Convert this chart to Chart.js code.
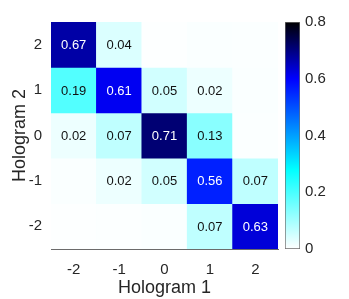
<!DOCTYPE html>
<html>
<head>
<meta charset="utf-8">
<script src="https://cdn.jsdelivr.net/npm/chart.js@4.4.1/dist/chart.umd.min.js"></script>
<style>
  body { margin: 0; background: #fff; }
  #wrap { position: relative; width: 349px; height: 299px; }
  #wrap canvas { position: absolute; top: 0; }
</style>
</head>
<body>
<div id="wrap">
  <canvas id="heat" width="349" height="299" style="left:0"></canvas>
  <canvas id="cbar" width="69" height="299" style="left:280px"></canvas>
</div>
<script>
// Hologram 1 along x, Hologram 2 along y (top row first)
const hologram1 = ['-2', '-1', '0', '1', '2'];
const hologram2 = [2, 1, 0, -1, -2];
const rowPlus2  = [0.67, 0.04, 0.002, 0.006, 0.004];
const rowPlus1  = [0.19, 0.61, 0.05, 0.02, 0.005];
const rowZero   = [0.02, 0.07, 0.71, 0.13, 0.004];
const rowMinus1 = [0.006, 0.02, 0.05, 0.56, 0.07];
const rowMinus2 = [0.002, 0.003, 0.006, 0.07, 0.63];
const rows = [rowPlus2, rowPlus1, rowZero, rowMinus1, rowMinus2];
const cbarTicks = [0, 0.2, 0.4, 0.6, 0.8];

const FONT = '"Liberation Sans", Arial, sans-serif';
const TEXT = '#262626';
const AXIS = '#6b6b6b';

// white -> cyan -> blue -> black
const cmapStops = [
    [0, [255, 255, 255]],
    [0.28, [0, 255, 255]],
    [0.6, [0, 0, 255]],
    [0.8, [0, 0, 0]],
];

function colorFor(v) {
    for (let i = 1; i < cmapStops.length; i++) {
        const [v0, c0] = cmapStops[i - 1];
        const [v1, c1] = cmapStops[i];
        if (v <= v1 || i === cmapStops.length - 1) {
            const t = Math.max(0, Math.min(1, (v - v0) / (v1 - v0)));
            const c = c0.map((a, k) => Math.round(a + (c1[k] - a) * t));
            return `rgb(${c[0]}, ${c[1]}, ${c[2]})`;
        }
    }
}

const cellText = {
    id: 'cellText',
    afterDatasetsDraw(chart) {
        const { ctx, scales: { x, y } } = chart;
        ctx.save();
        ctx.font = `13px ${FONT}`;
        ctx.textAlign = 'center';
        ctx.textBaseline = 'middle';
        rows.forEach((row, r) => {
            row.forEach((v, i) => {
                if (v < 0.015) return; // tiny values are left blank
                ctx.fillStyle = v > 0.5 ? '#ffffff' : '#111111';
                ctx.fillText(v.toFixed(2), x.getPixelForValue(i), y.getPixelForValue(hologram2[r]) + 1);
            });
        });
        ctx.restore();
    }
};

new Chart(document.getElementById('heat'), {
    type: 'bar',
    data: {
        labels: hologram1,
        datasets: rows.map((row, r) => ({
            label: 'Hologram 2 = ' + hologram2[r],
            data: row.map(() => [hologram2[r] - 0.5, hologram2[r] + 0.5]),
            backgroundColor: row.map(colorFor),
            borderWidth: 0,
            grouped: false,
            barPercentage: 1,
            categoryPercentage: 1,
        })),
    },
    options: {
        responsive: false,
        animation: false,
        events: [],
        layout: { autoPadding: false, padding: { left: 0, right: 71, top: 22, bottom: 0 } },
        plugins: { legend: { display: false }, tooltip: { enabled: false } },
        scales: {
            x: {
                grid: { display: false, drawTicks: false },
                border: { color: AXIS, width: 1 },
                ticks: { color: TEXT, font: { family: FONT, size: 15 }, padding: 12 },
                title: { display: true, text: 'Hologram 1', color: TEXT, font: { family: FONT, size: 18 }, padding: { top: 0, bottom: 0 } },
                afterFit(scale) { scale.height = 50; },
            },
            y: {
                min: -2.5,
                max: 2.5,
                afterBuildTicks(scale) { scale.ticks = hologram2.map(v => ({ value: v })); },
                grid: { display: false, drawTicks: false },
                border: { color: AXIS, width: 1 },
                ticks: { color: TEXT, font: { family: FONT, size: 15 }, padding: 9 },
                title: { display: true, text: 'Hologram 2', color: TEXT, font: { family: FONT, size: 18 }, padding: { top: 9, bottom: 0 } },
                afterFit(scale) { scale.width = 51; },
            },
        },
    },
    plugins: [cellText],
});

// colorbar
new Chart(document.getElementById('cbar'), {
    type: 'bar',
    data: {
        labels: [''],
        datasets: [{
            data: [[cbarTicks[0], cbarTicks[cbarTicks.length - 1]]],
            backgroundColor(context) {
                const { chart } = context;
                const area = chart.chartArea;
                if (!area) return null;
                const y = chart.scales.y;
                const g = chart.ctx.createLinearGradient(0, y.getPixelForValue(0), 0, y.getPixelForValue(0.8));
                cmapStops.forEach(([v]) => g.addColorStop(v / 0.8, colorFor(v)));
                return g;
            },
            borderColor: AXIS,
            borderWidth: 1,
            borderSkipped: false,
            barPercentage: 1,
            categoryPercentage: 1,
        }],
    },
    options: {
        responsive: false,
        animation: false,
        events: [],
        layout: { autoPadding: false, padding: { left: 5, right: 0, top: 22, bottom: 50 } },
        plugins: { legend: { display: false }, tooltip: { enabled: false } },
        scales: {
            x: { display: false },
            y: {
                position: 'right',
                min: 0,
                max: 0.8,
                afterBuildTicks(scale) { scale.ticks = cbarTicks.map(v => ({ value: v })); },
                grid: { display: false, drawTicks: false },
                border: { display: false },
                ticks: {
                    color: TEXT,
                    font: { family: FONT, size: 15 },
                    padding: 5,
                    callback: v => (v === 0 ? '0' : v.toFixed(1)),
                },
                afterFit(scale) { scale.width = 49; },
            },
        },
    },
});
</script>
</body>
</html>
